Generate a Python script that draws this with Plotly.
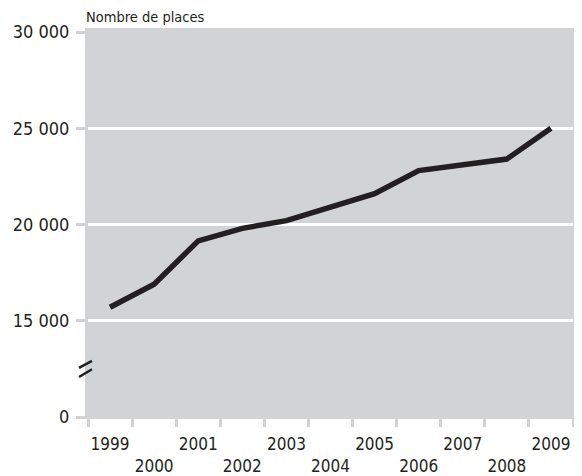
import plotly.graph_objects as go

years = [1999, 2000, 2001, 2002, 2003, 2004, 2005, 2006, 2007, 2008, 2009]
places = [15700, 16900, 19150, 19800, 20200, 20900, 21600, 22800, 23100, 23400, 25000]

year_labels = [str(y) if i % 2 == 0 else "<br>" + str(y) for i, y in enumerate(years)]
y_tickvals = [10000, 15000, 20000, 25000, 30000]
y_ticktext = ["0", "15 000", "20 000", "25 000", "30 000"]
grid_vals = [15000, 20000, 25000]

FONT = "Liberation Sans Narrow, DejaVu Sans Condensed, Roboto Condensed, Arial Narrow, sans-serif"
TXT = "#231f20"
BG = "#d2d3d5"

fig = go.Figure()
fig.add_trace(go.Scatter(x=years, y=places, mode="lines",
                         line=dict(color=TXT, width=5.5), hoverinfo="skip"))

# page body adds an 8px offset, so the figure is 8px smaller on each axis
W, H = 574, 468
L, R, T, B = 80, 9, 24, 59
pw = W - L - R
ph = H - T - B

shapes = [
    dict(type="rect", xref="paper", yref="paper", x0=-3 / pw, x1=1 + 2 / pw,
         y0=-2 / ph, y1=1 + 4 / ph, fillcolor=BG, line=dict(width=0), layer="below"),
    dict(type="line", xref="paper", yref="y", x0=-9 / pw, x1=4 / pw,
         y0=12550, y1=12920, line=dict(color=TXT, width=2.5)),
    dict(type="line", xref="paper", yref="y", x0=-9 / pw, x1=4 / pw,
         y0=12080, y1=12480, line=dict(color=TXT, width=2.5)),
]

fig.update_layout(
    width=W, height=H,
    margin=dict(l=L, r=R, t=T, b=B, autoexpand=False),
    paper_bgcolor="white", plot_bgcolor="rgba(0,0,0,0)",
    showlegend=False,
    font=dict(family=FONT, color=TXT, size=18),
    shapes=shapes,
    annotations=[dict(text="Nombre de places", xref="paper", yref="paper",
                      x=-4 / pw, y=1, xanchor="left", yanchor="bottom", yshift=5,
                      showarrow=False, font=dict(size=14.5, family=FONT, color=TXT))],
    xaxis=dict(range=[1998.5, 2009.5], tickmode="array", tickvals=years,
               ticktext=year_labels, ticks="", showgrid=False, zeroline=False,
               showline=False, tickfont=dict(size=17), ticklabelstandoff=15,
               minor=dict(ticks="outside", tick0=1998.5, dtick=1, ticklen=9,
                          tickwidth=3, tickcolor=BG, showgrid=False)),
    yaxis=dict(range=[10000, 30000], tickmode="array", tickvals=y_tickvals,
               ticktext=y_ticktext, ticks="outside", ticklen=11, tickwidth=3,
               tickcolor=BG, showgrid=False, zeroline=False, showline=False,
               tickfont=dict(size=18), ticklabelstandoff=3,
               minor=dict(tickmode="array", tickvals=grid_vals, showgrid=True,
                          gridcolor="white", gridwidth=3, ticks="")),
)

fig.write_html("out.html")
